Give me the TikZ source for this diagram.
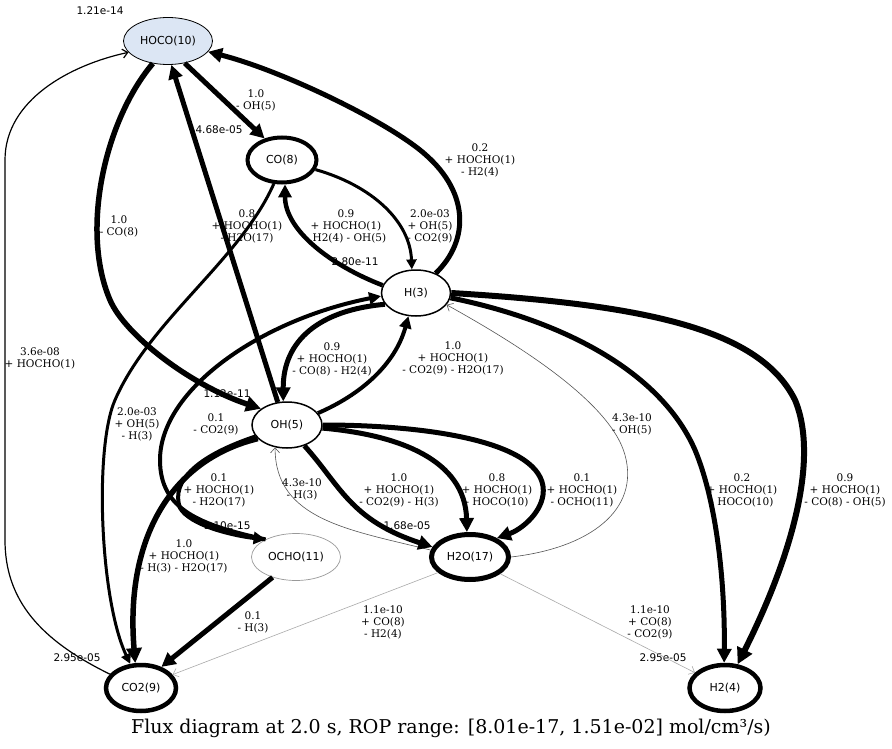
\documentclass[tikz,border=0pt]{standalone}
\usepackage{fontspec}
\setmainfont{DejaVu Serif}
\setsansfont{DejaVu Sans}
\usetikzlibrary{arrows.meta,shapes.geometric}
\definecolor{hocofill}{HTML}{DCE6F4}
\definecolor{lightedge}{HTML}{AAAAAA}
\definecolor{darkedge}{HTML}{555555}
\tikzset{
  species/.style={ellipse,draw,inner sep=0pt,font=\sffamily\fontsize{11}{12}\selectfont},
  flux/.style={line width=#1,-{Triangle[length=4pt 2,width=4pt 2]}},
  weak/.style={line width=#1,-{Straight Barb[length=5pt,width=9pt]}},
  rate/.style={font=\fontsize{10.5}{12}\selectfont,align=center,inner sep=0pt},
  conc/.style={font=\sffamily\fontsize{10.5}{12}\selectfont,inner sep=0pt},
}
\begin{document}
\begin{tikzpicture}[x=1pt,y=-1pt]
			\fill[white] (0,0) rectangle (892,749);
			\useasboundingbox (0,0) rectangle (892,749);
			% species
			\node[species,fill=hocofill,line width=0.8pt,minimum width=89pt,minimum height=47pt] (hoco) at (168,41) {HOCO(10)};
			\node[species,line width=4pt,minimum width=69pt,minimum height=45pt] (co) at (282,160) {CO(8)};
			\node[species,line width=1.5pt,minimum width=69pt,minimum height=46pt] (h) at (416,293) {H(3)};
			\node[species,line width=1.5pt,minimum width=70pt,minimum height=46pt] (oh) at (287,425) {OH(5)};
			\node[species,draw=gray!80,line width=0.7pt,minimum width=89pt,minimum height=47pt] (ocho) at (296,557) {OCHO(11)};
			\node[species,line width=5pt,minimum width=77pt,minimum height=45pt] (h2o) at (470,557) {H2O(17)};
			\node[species,line width=4.5pt,minimum width=70pt,minimum height=46pt] (co2) at (141,688) {CO2(9)};
			\node[species,line width=4.5pt,minimum width=71pt,minimum height=46pt] (h2) at (725,688) {H2(4)};
			% concentrations
			\node[conc] (choco) at (100,11) {1.21e-14};
			\node[conc] (cco) at (219,130) {4.68e-05};
			\node[conc] (ch) at (355,262) {2.80e-11};
			\node[conc] (coh) at (227,394) {1.12e-11};
			\node[conc] (cocho) at (227,526) {1.10e-15};
			\node[conc] (ch2o) at (407,526) {1.68e-05};
			\node[conc] (cco2) at (77,658) {2.95e-05};
			\node[conc] (ch2) at (663,658) {2.95e-05};
			% fluxes
			\draw[flux=5pt] (hoco.-53) -- (co.129);
			\draw[flux=5.5pt] (hoco.-124) .. controls (105,120) and (80,230) .. (110,300) .. controls (125,335) and (190,385) .. (oh.148);
			\draw[flux=5pt] (oh.112) -- (hoco.-82);
			\draw[flux=5pt] (h.45) .. controls (470,240) and (470,190) .. (420,150) .. controls (380,118) and (280,70) .. (hoco.-15);
			\draw[flux=3pt] (co.-16) .. controls (370,185) and (410,220) .. (h.100);
			\draw[flux=4.5pt] (h.167) .. controls (330,265) and (285,230) .. (co.-83);
			\draw[flux=3pt] (co.-109) .. controls (240,260) and (150,320) .. (115,400) .. controls (94,448) and (100,600) .. (co2.114);
			\draw[weak=1.2pt] (co2.156) .. controls (40,640) and (5,600) .. (5,540) -- (5,160) .. controls (5,100) and (70,65) .. (hoco.-164);
			\draw[flux=5pt] (h.-160) .. controls (320,310) and (283,340) .. (oh.99);
			\draw[flux=4pt] (oh.21) .. controls (360,395) and (395,365) .. (h.-108);
			\draw[flux=4pt] (ocho.150) .. controls (200,525) and (160,510) .. (160,460) .. controls (160,390) and (260,320) .. (h.-175);
			\draw[flux=4pt] (oh.-160) .. controls (200,455) and (170,480) .. (180,508) .. controls (190,525) and (230,535) .. (ocho.150);
			\draw[flux=5.5pt] (oh.-155) .. controls (170,460) and (125,540) .. (co2.103);
			\draw[flux=5pt] (ocho.-139) -- (co2.46);
			\draw[weak=0.6pt,darkedge] (h2o.170) .. controls (350,530) and (275,520) .. (oh.-118);
			\draw[flux=5pt] (oh.-50) .. controls (340,485) and (350,520) .. (h2o.165);
			\draw[flux=5pt] (oh.-5) .. controls (400,435) and (465,460) .. (h2o.97);
			\draw[flux=5pt] (oh.0) .. controls (440,425) and (550,445) .. (543,495) .. controls (540,515) and (520,530) .. (h2o.35);
			\draw[weak=0.6pt,darkedge] (h2o.0) .. controls (590,548) and (640,510) .. (625,455) .. controls (610,400) and (510,340) .. (h.-21);
			\draw[flux=5pt] (h.-8) .. controls (560,320) and (660,370) .. (695,450) .. controls (720,510) and (725,600) .. (h2.92);
			\draw[flux=6pt] (h.0) .. controls (650,305) and (760,330) .. (795,400) .. controls (820,460) and (790,560) .. (h2.62);
			\draw[weak=0.6pt,lightedge] (h2o.-154) -- (co2.23);
			\draw[weak=0.6pt,lightedge] (h2o.-29) -- (h2.153);
			% flux labels
			\node[rate] (rhococo) at (256,100) {1.0\\- OH(5)};
			\node[rate] (rhocooh) at (119,226) {1.0\\- CO(8)};
			\node[rate] (rohhoco) at (247,226) {0.8\\+ HOCHO(1)\\- H2O(17)};
			\node[rate] (rhhoco) at (480,160) {0.2\\+ HOCHO(1)\\- H2(4)};
			\node[rate] (rhco) at (346,226) {0.9\\+ HOCHO(1)\\- H2(4) - OH(5)};
			\node[rate] (rcoh) at (430,226) {2.0e-03\\+ OH(5)\\- CO2(9)};
			\node[rate] (rcoco2) at (137,424) {2.0e-03\\+ OH(5)\\- H(3)};
			\node[rate] (rco2hoco) at (40,358) {3.6e-08\\+ HOCHO(1)};
			\node[rate] (rhoh) at (332,359) {0.9\\+ HOCHO(1)\\- CO(8) - H2(4)};
			\node[rate] (rohh) at (453,358) {1.0\\+ HOCHO(1)\\- CO2(9) - H2O(17)};
			\node[rate] (rochoh) at (216,424) {0.1\\- CO2(9)};
			\node[rate] (rohocho) at (219,490) {0.1\\+ HOCHO(1)\\- H2O(17)};
			\node[rate] (rohco2) at (184,556) {1.0\\+ HOCHO(1)\\- H(3) - H2O(17)};
			\node[rate] (rochoco2) at (253,622) {0.1\\- H(3)};
			\node[rate] (rh2ooh) at (302,489) {4.3e-10\\- H(3)};
			\node[rate] (rohh2oa) at (399,490) {1.0\\+ HOCHO(1)\\- CO2(9) - H(3)};
			\node[rate] (rohh2ob) at (497,490) {0.8\\+ HOCHO(1)\\- HOCO(10)};
			\node[rate] (rohh2oc) at (582,490) {0.1\\+ HOCHO(1)\\- OCHO(11)};
			\node[rate] (rh2oh) at (632,424) {4.3e-10\\- OH(5)};
			\node[rate] (rhh2a) at (742,490) {0.2\\+ HOCHO(1)\\- HOCO(10)};
			\node[rate] (rhh2b) at (845,490) {0.9\\+ HOCHO(1)\\- CO(8) - OH(5)};
			\node[rate] (rh2oco2) at (383,622) {1.1e-10\\+ CO(8)\\- H2(4)};
			\node[rate] (rh2oh2) at (650,622) {1.1e-10\\+ CO(8)\\- CO2(9)};
			% caption
			\node[font=\fontsize{19}{22}\selectfont,inner sep=0pt] (title) at (451,728) {Flux diagram at 2.0 s, ROP range: [8.01e-17, 1.51e-02] mol/cm³/s)};
		\end{tikzpicture}
\end{document}
